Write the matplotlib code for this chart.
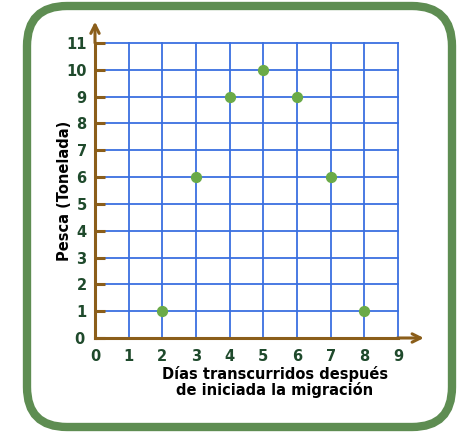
import matplotlib
matplotlib.use('Agg')
import matplotlib.pyplot as plt
from matplotlib.patches import FancyBboxPatch

# data
dias = [2, 3, 4, 5, 6, 7, 8]
pesca = [1, 6, 9, 10, 9, 6, 1]
xticks = list(range(0, 10))
yticks = list(range(0, 12))

brown = '#8b5e1a'
green_txt = '#1f4a2c'
blue = '#3a6fe0'
dot = '#6aaa48'
frame = '#5e8d52'

plt.rcParams['font.family'] = ['DejaVu Sans']

fig = plt.figure(figsize=(4.67, 4.37), dpi=100)

# rounded frame in pixel coords
bg = fig.add_axes([0, 0, 1, 1])
bg.set_xlim(0, 467)
bg.set_ylim(0, 437)
bg.axis('off')
bg.add_patch(FancyBboxPatch((27 + 40, 10 + 40), 425 - 80, 421 - 80,
                            boxstyle='round,pad=40', fc='white', ec=frame, lw=6))

ax = fig.add_axes([95 / 467, 99 / 437, 303 / 467, 295 / 437])
ax.set_xlim(0, 9)
ax.set_ylim(0, 11)
ax.patch.set_alpha(0)

for v in xticks[1:]:
    ax.plot([v, v], [0, 11], color=blue, lw=1.3, zorder=1, clip_on=False)
for v in yticks[1:]:
    ax.plot([0, 9], [v, v], color=blue, lw=1.3, zorder=1, clip_on=False)

ax.scatter(dias, pesca, s=50, color=dot, zorder=3, clip_on=False)

for s in ['top', 'right']:
    ax.spines[s].set_visible(False)
for s in ['left', 'bottom']:
    ax.spines[s].set_color(brown)
    ax.spines[s].set_linewidth(2.2)
    ax.spines[s].set_zorder(2)

ax.annotate('', xy=(9.85, 0), xytext=(8.9, 0), annotation_clip=False,
            arrowprops=dict(arrowstyle='->,head_length=0.6,head_width=0.3', color=brown, lw=2.2))
ax.annotate('', xy=(0, 11.9), xytext=(0, 10.9), annotation_clip=False,
            arrowprops=dict(arrowstyle='->,head_length=0.6,head_width=0.3', color=brown, lw=2.2))

ax.set_xticks(xticks)
ax.set_yticks(yticks)
ax.tick_params(axis='x', length=0, pad=8, labelsize=10.5, labelcolor=green_txt)
ax.tick_params(axis='y', direction='in', length=7, width=2.2, color=brown,
               pad=6, labelsize=10.5, labelcolor=green_txt)
for lab in ax.get_xticklabels() + ax.get_yticklabels():
    lab.set_fontweight('bold')
ax.get_yticklabels()[0].set_visible(False)
ax.text(-0.45, -0.05, '0', ha='center', va='center', fontsize=10.5,
        fontweight='bold', color=green_txt)

ax.set_ylabel('Pesca (Tonelada)', fontsize=10.5, fontweight='bold')
ax.yaxis.set_label_coords(-0.077, 0.5)
fig.text(275 / 467, 1 - 382 / 437, 'Días transcurridos después\nde iniciada la migración',
         ha='center', va='center', fontsize=10.5, fontweight='bold', linespacing=0.95)

fig.savefig('out.png', dpi=100)
